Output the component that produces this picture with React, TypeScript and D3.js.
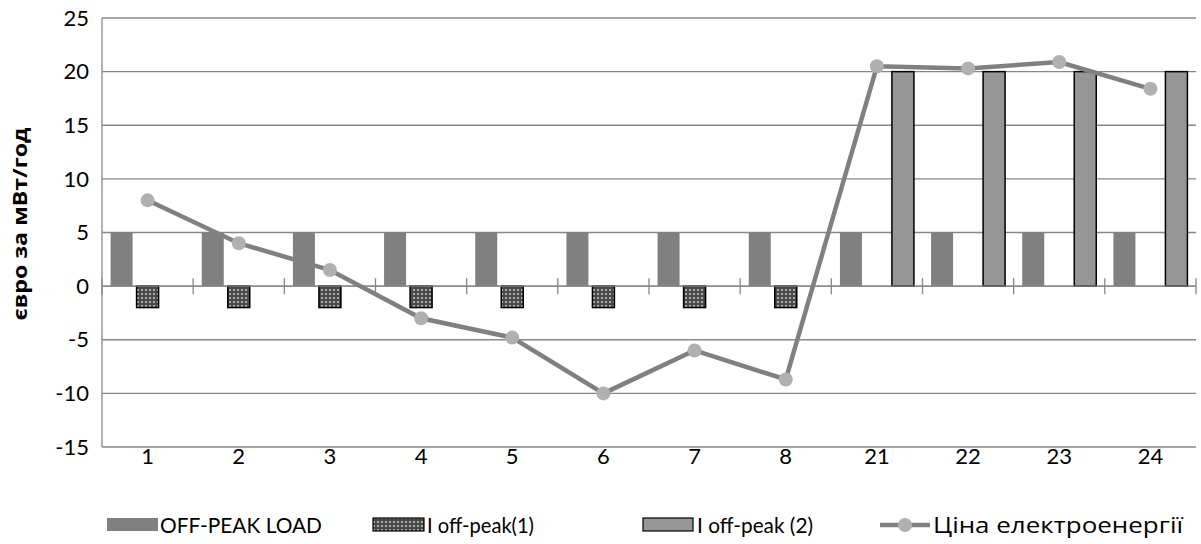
import React from 'react'
import * as d3 from 'd3'

const categories = ['1', '2', '3', '4', '5', '6', '7', '8', '21', '22', '23', '24']
const offPeakLoad = [5, 5, 5, 5, 5, 5, 5, 5, 5, 5, 5, 5]
const offPeak1 = [-2, -2, -2, -2, -2, -2, -2, -2, 0, 0, 0, 0]
const offPeak2 = [0, 0, 0, 0, 0, 0, 0, 0, 20, 20, 20, 20]
const price = [8, 4, 1.5, -3, -4.8, -10, -6, -8.7, 20.5, 20.3, 20.9, 18.4]
const yTicks = [-15, -10, -5, 0, 5, 10, 15, 20, 25]

const legendItems = ['OFF-PEAK LOAD', 'I off-peak(1)', 'I off-peak (2)', 'Ціна електроенергії']

const font = 'Lato, "Open Sans", sans-serif'
const cyrFont = '"Open Sans", "Noto Sans", sans-serif'
const fs = 22

export default function App() {
  const width = 1201, height = 544
  const left = 102, right = 1196, top = 18, bottom = 447

  const x = d3.scaleBand().domain(categories).range([left, right])
  const y = d3.scaleLinear().domain([-15, 25]).range([bottom, top])

  const barW = 22, step = 26
  const cx = (c: string) => (x(c) as number) + x.bandwidth() / 2

  const line = d3.line<number>()
    .x((_, i) => cx(categories[i]))
    .y(d => y(d))

  const bar = (v: number) => ({ y: Math.min(y(v), y(0)), h: Math.abs(y(v) - y(0)) })

  return (
    <svg width={width} height={height} style={{ position: 'absolute', left: 0, top: 0 }}>
      <defs>
        <pattern id="dots" width={4} height={4} patternUnits="userSpaceOnUse">
          <rect width={4} height={4} fill="#4a4a4a" />
          <rect x={1} y={1} width={2} height={2} fill="#a8a8a8" />
        </pattern>
      </defs>
      <rect width={width} height={height} fill="#fff" />

      {/* grid */}
      {yTicks.map(t => (
        <line key={t} x1={left} x2={right} y1={y(t)} y2={y(t)} stroke="#878787" strokeWidth={1.3} />
      ))}
      <line x1={left} x2={left} y1={top} y2={bottom} stroke="#878787" strokeWidth={1.3} />
      {yTicks.map(t => (
        <text key={t} x={89} y={y(t)} dy="0.35em" textAnchor="end" fontFamily={font} fontSize={fs} fill="#000">{t}</text>
      ))}

      {/* x axis ticks */}
      {d3.range(categories.length + 1).map(i => {
        const xx = left + i * x.step()
        return <line key={i} x1={xx} x2={xx} y1={y(0) - 8} y2={y(0) + 8} stroke="#878787" strokeWidth={1.3} />
      })}

      {/* bars */}
      {categories.map((c, i) => {
        const b1 = bar(offPeakLoad[i]), b2 = bar(offPeak1[i]), b3 = bar(offPeak2[i])
        return (
          <g key={c}>
            {offPeakLoad[i] !== 0 && <rect x={cx(c) - step - barW / 2} y={b1.y} width={barW} height={b1.h} fill="#808080" />}
            {offPeak1[i] !== 0 && <rect x={cx(c) - barW / 2} y={b2.y} width={barW} height={b2.h} fill="url(#dots)" stroke="#000" strokeWidth={1.5} />}
            {offPeak2[i] !== 0 && <rect x={cx(c) + step - barW / 2} y={b3.y} width={barW} height={b3.h} fill="#969696" stroke="#000" strokeWidth={1.5} />}
          </g>
        )
      })}
      <line x1={left} x2={right} y1={y(0)} y2={y(0)} stroke="#878787" strokeWidth={1.3} />

      {/* line */}
      <path d={line(price) as string} fill="none" stroke="#808080" strokeWidth={4.5} />
      {price.map((v, i) => (
        <circle key={i} cx={cx(categories[i])} cy={y(v)} r={7} fill="#b0b0b0" />
      ))}

      {categories.map(c => (
        <text key={c} x={cx(c)} y={456} dy="0.35em" textAnchor="middle" fontFamily={font} fontSize={fs} fill="#000">{c}</text>
      ))}

      <text transform="translate(27,224) rotate(-90)" textAnchor="middle" fontFamily={cyrFont} fontSize={20} fontWeight="bold" fill="#000"
        textLength={193} lengthAdjust="spacingAndGlyphs">
        євро за мВт/год
      </text>

      {/* legend */}
      <g fontFamily={font} fontSize={fs} fill="#000">
        <rect x={107} y={518} width={51} height={13} fill="#808080" />
        <text x={160} y={525} dy="0.35em" textLength={162} lengthAdjust="spacingAndGlyphs">{legendItems[0]}</text>
        <rect x={373} y={518} width={51} height={13} fill="url(#dots)" stroke="#000" strokeWidth={1.2} />
        <text x={427} y={525} dy="0.35em" textLength={107} lengthAdjust="spacingAndGlyphs">{legendItems[1]}</text>
        <rect x={643} y={518} width={50} height={13} fill="#969696" stroke="#000" strokeWidth={1.2} />
        <text x={697} y={525} dy="0.35em" textLength={116} lengthAdjust="spacingAndGlyphs">{legendItems[2]}</text>
        <line x1={880} x2={930} y1={525} y2={525} stroke="#808080" strokeWidth={4.5} />
        <circle cx={905} cy={525} r={7} fill="#b0b0b0" />
        <text x={933} y={525} dy="0.35em" fontFamily={cyrFont} fontSize={22} textLength={250} lengthAdjust="spacingAndGlyphs">{legendItems[3]}</text>
      </g>
    </svg>
  )
}
